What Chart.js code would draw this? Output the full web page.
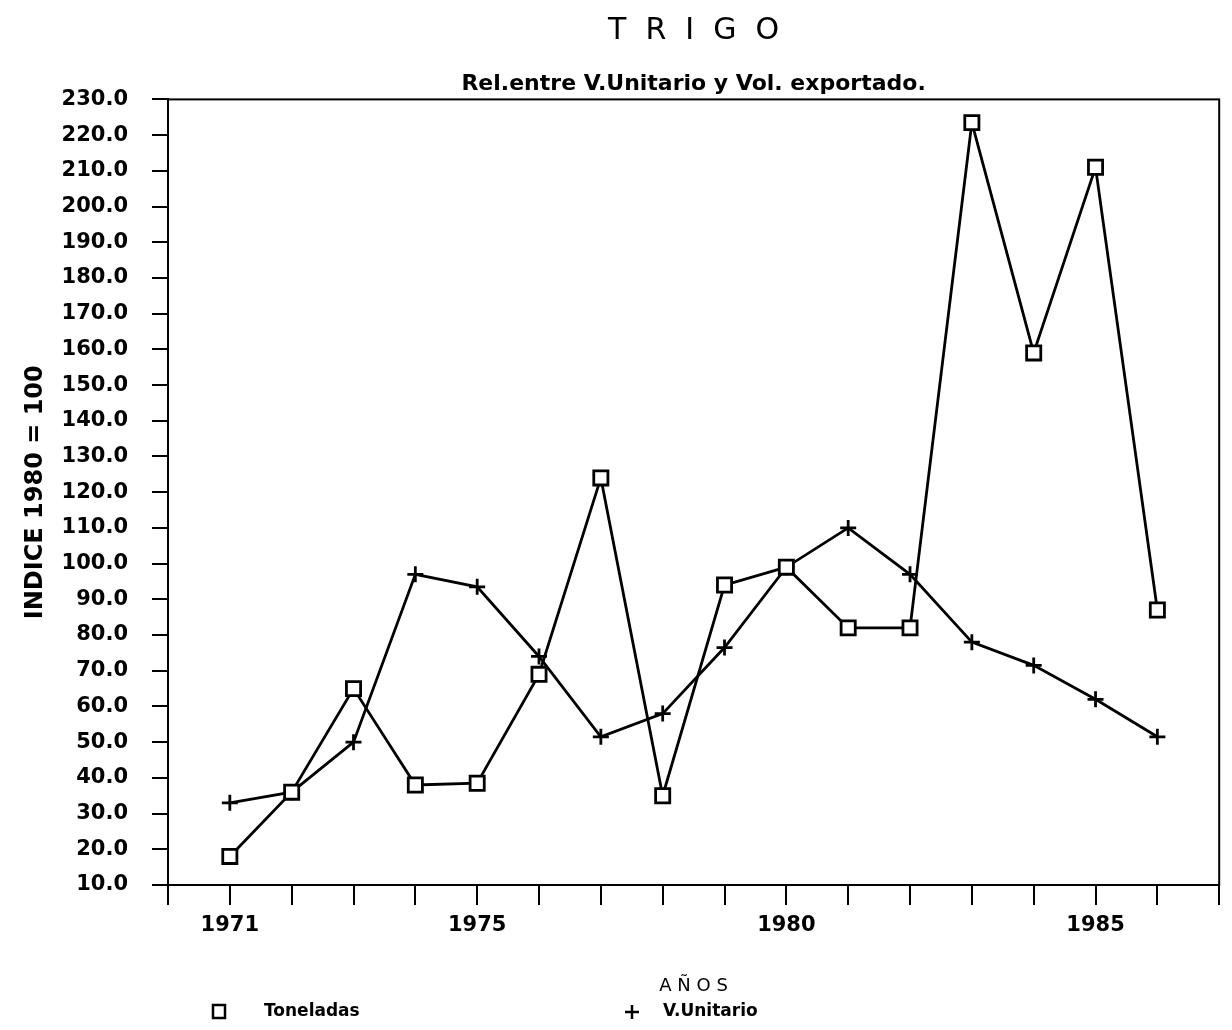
<!DOCTYPE html>
<html>
<head>
<meta charset="utf-8">
<script src="https://cdn.jsdelivr.net/npm/chart.js@4.4.1/dist/chart.umd.min.js"></script>
<style>
    body { margin: 0; background: #fff; }
    canvas { display: block; }
</style>
</head>
<body>
<canvas id="grafico" width="1232" height="1030"></canvas>
<script>
// datos (indice 1980 = 100)
const anios = [1971, 1972, 1973, 1974, 1975, 1976, 1977, 1978, 1979, 1980, 1981, 1982, 1983, 1984, 1985, 1986];
const toneladas = [18, 36, 65, 38, 38.5, 69, 124, 35, 94, 99, 82, 82, 223.5, 159, 211, 87];
const valorUnitario = [33, 36, 50, 97, 93.5, 74, 51.5, 58, 76.5, 99, 110, 97, 78, 71.5, 62, 51.5];
const aniosConEtiqueta = [1971, 1975, 1980, 1985];

const negro = '#000';
const fuente = 'DejaVu Sans';

// marco superior y derecho del area de trazado
const marco = {
    id: 'marco',
    beforeDatasetsDraw(chart) {
        const { ctx, chartArea } = chart;
        ctx.save();
        ctx.strokeStyle = negro;
        ctx.lineWidth = 2;
        ctx.strokeRect(chartArea.left, chartArea.top, chartArea.right - chartArea.left, chartArea.bottom - chartArea.top);
        ctx.restore();
    }
};

// leyenda abajo, como en el original
const leyendaAbajo = {
    id: 'leyendaAbajo',
    afterDraw(chart) {
        const ctx = chart.ctx;
        const y = 1012;
        ctx.save();
        ctx.strokeStyle = negro;
        ctx.fillStyle = negro;
        ctx.lineWidth = 2.5;
        ctx.strokeRect(213, y - 7, 12, 13);
        ctx.beginPath();
        ctx.moveTo(625, y);
        ctx.lineTo(639, y);
        ctx.moveTo(632, y - 7);
        ctx.lineTo(632, y + 7);
        ctx.stroke();
        ctx.font = 'bold 17px ' + fuente;
        ctx.textBaseline = 'middle';
        ctx.textAlign = 'left';
        ctx.fillText(chart.data.datasets[0].label, 264, y);
        ctx.fillText(chart.data.datasets[1].label, 663, y);
        ctx.restore();
    }
};

const ctx = document.getElementById('grafico').getContext('2d');
new Chart(ctx, {
    type: 'line',
    data: {
        datasets: [{
            label: 'Toneladas',
            data: anios.map((a, i) => ({ x: a, y: toneladas[i] })),
            borderColor: negro,
            borderWidth: 2.8,
            pointStyle: 'rect',
            pointRadius: 10,
            pointBorderWidth: 2.8,
            pointBorderColor: negro,
            pointBackgroundColor: '#fff',
            tension: 0
        }, {
            label: 'V.Unitario',
            data: anios.map((a, i) => ({ x: a, y: valorUnitario[i] })),
            borderColor: negro,
            borderWidth: 2.8,
            pointStyle: 'cross',
            pointRadius: 8,
            pointBorderWidth: 2.8,
            pointBorderColor: negro,
            tension: 0
        }]
    },
    options: {
        responsive: false,
        animation: false,
        layout: { padding: { left: 0, right: 10, top: 0, bottom: 0 } },
        plugins: {
            legend: { display: false },
            tooltip: { enabled: false },
            title: {
                display: true,
                text: 'T  R  I  G  O',
                fullSize: false,
                color: negro,
                font: { family: fuente, size: 30, weight: 'normal' },
                padding: { top: 13, bottom: 17 }
            },
            subtitle: {
                display: true,
                text: 'Rel.entre V.Unitario y Vol. exportado.',
                fullSize: false,
                color: negro,
                font: { family: fuente, size: 22, weight: 'bold' },
                padding: { top: 5, bottom: 2 }
            }
        },
        scales: {
            x: {
                type: 'linear',
                min: 1970,
                max: 1987,
                afterFit: function(scale) { scale.height = 145; },
                ticks: {
                    stepSize: 1,
                    autoSkip: false,
                    maxRotation: 0,
                    padding: 8,
                    color: negro,
                    font: { family: fuente, size: 21, weight: 'bold' },
                    callback: v => aniosConEtiqueta.includes(v) ? String(v) : ''
                },
                grid: { drawOnChartArea: false, color: negro, lineWidth: 2, tickLength: 20 },
                border: { color: negro, width: 2 },
                title: {
                    display: true,
                    text: 'A Ñ O S',
                    color: negro,
                    font: { family: fuente, size: 18, weight: 'normal' },
                    padding: { top: 0, bottom: 33 }
                }
            },
            y: {
                min: 10,
                max: 230,
                afterFit: function(scale) { scale.width = 168; },
                ticks: {
                    stepSize: 10,
                    padding: 24,
                    color: negro,
                    font: { family: fuente, size: 21, weight: 'bold' },
                    callback: v => v.toFixed(1)
                },
                grid: { drawOnChartArea: false, color: negro, lineWidth: 2, tickLength: 16 },
                border: { color: negro, width: 2 },
                title: {
                    display: true,
                    text: 'INDICE 1980 = 100',
                    color: negro,
                    font: { family: fuente, size: 24, weight: 'bold' },
                    padding: { top: 21, bottom: 0 }
                }
            }
        }
    },
    plugins: [marco, leyendaAbajo]
});
</script>
</body>
</html>
